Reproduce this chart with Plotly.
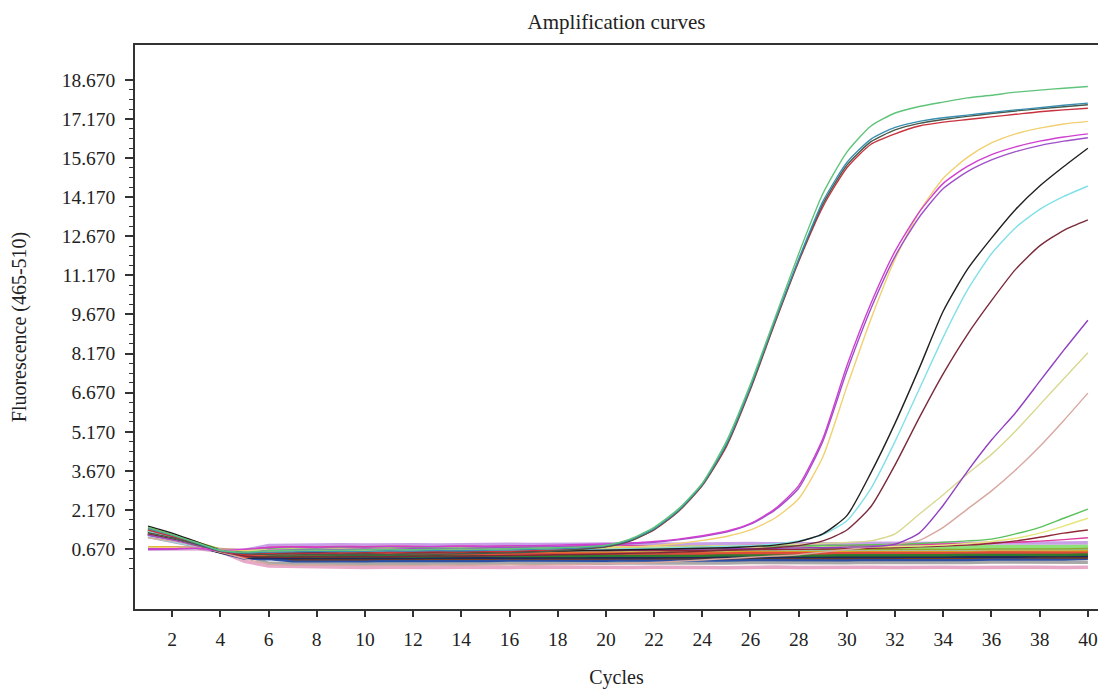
import plotly.graph_objects as go

cycles = list(range(1, 41))

# amplifying wells
green_a = [1.50, 1.22, 0.92, 0.62, 0.55, 0.60, 0.62, 0.63, 0.62, 0.64, 0.65, 0.64, 0.66, 0.67, 0.66, 0.68, 0.70, 0.72, 0.75, 0.82,
           1.05, 1.50, 2.20, 3.20, 4.80, 7.00, 9.50, 12.00, 14.30, 15.90, 16.90, 17.40, 17.65, 17.82, 17.98, 18.08, 18.20, 18.28, 18.35, 18.42]
teal_a = [1.45, 1.20, 0.90, 0.60, 0.52, 0.55, 0.56, 0.58, 0.57, 0.58, 0.60, 0.59, 0.61, 0.60, 0.62, 0.63, 0.66, 0.68, 0.72, 0.80,
          1.02, 1.45, 2.15, 3.15, 4.70, 6.90, 9.40, 11.80, 14.00, 15.50, 16.40, 16.85, 17.08, 17.22, 17.32, 17.42, 17.52, 17.60, 17.70, 17.78]
red_a = [1.40, 1.15, 0.88, 0.58, 0.48, 0.50, 0.52, 0.50, 0.53, 0.52, 0.54, 0.55, 0.56, 0.55, 0.57, 0.58, 0.60, 0.63, 0.68, 0.76,
         0.98, 1.40, 2.10, 3.10, 4.60, 6.80, 9.30, 11.70, 13.80, 15.30, 16.20, 16.60, 16.90, 17.05, 17.15, 17.25, 17.35, 17.45, 17.52, 17.58]
dark_a = [1.30, 1.10, 0.85, 0.60, 0.50, 0.45, 0.44, 0.46, 0.45, 0.47, 0.46, 0.48, 0.47, 0.49, 0.50, 0.52, 0.55, 0.60, 0.66, 0.75,
          0.97, 1.42, 2.12, 3.12, 4.65, 6.85, 9.35, 11.75, 13.90, 15.40, 16.30, 16.75, 17.00, 17.15, 17.27, 17.38, 17.48, 17.56, 17.64, 17.72]
magenta_b = [0.67, 0.68, 0.70, 0.62, 0.66, 0.72, 0.74, 0.73, 0.75, 0.74, 0.76, 0.75, 0.77, 0.78, 0.77, 0.79, 0.80, 0.82, 0.84, 0.86,
             0.90, 0.96, 1.05, 1.18, 1.35, 1.65, 2.20, 3.10, 4.90, 7.70, 10.10, 12.10, 13.60, 14.70, 15.35, 15.80, 16.10, 16.32, 16.48, 16.60]
violet_b = [1.20, 1.02, 0.82, 0.58, 0.50, 0.62, 0.64, 0.66, 0.65, 0.67, 0.66, 0.68, 0.70, 0.69, 0.71, 0.72, 0.74, 0.76, 0.78, 0.82,
            0.87, 0.93, 1.02, 1.15, 1.32, 1.62, 2.15, 3.00, 4.80, 7.50, 9.90, 11.90, 13.40, 14.50, 15.15, 15.60, 15.92, 16.15, 16.32, 16.45]
yellow_b = [0.74, 0.72, 0.70, 0.64, 0.60, 0.58, 0.60, 0.59, 0.61, 0.60, 0.62, 0.63, 0.62, 0.64, 0.65, 0.64, 0.66, 0.68, 0.70, 0.72,
            0.75, 0.80, 0.88, 1.00, 1.15, 1.40, 1.85, 2.60, 4.20, 6.90, 9.50, 11.80, 13.60, 14.90, 15.70, 16.25, 16.60, 16.82, 16.98, 17.08]
black_c = [1.55, 1.28, 0.95, 0.63, 0.55, 0.50, 0.52, 0.51, 0.53, 0.52, 0.54, 0.53, 0.55, 0.56, 0.55, 0.57, 0.58, 0.59, 0.61, 0.62,
           0.64, 0.66, 0.68, 0.70, 0.72, 0.76, 0.82, 0.95, 1.25, 1.95, 3.60, 5.50, 7.60, 9.80, 11.40, 12.60, 13.70, 14.60, 15.35, 16.05]
cyan_c = [1.35, 1.12, 0.86, 0.61, 0.58, 0.56, 0.58, 0.60, 0.59, 0.61, 0.60, 0.62, 0.61, 0.63, 0.62, 0.64, 0.63, 0.65, 0.66, 0.67,
          0.68, 0.70, 0.72, 0.74, 0.77, 0.80, 0.86, 0.98, 1.22, 1.75, 3.00, 4.80, 6.80, 8.80, 10.60, 12.00, 13.00, 13.70, 14.20, 14.60]
maroon_c = [1.25, 1.06, 0.82, 0.58, 0.40, 0.36, 0.35, 0.37, 0.36, 0.38, 0.37, 0.39, 0.40, 0.39, 0.41, 0.42, 0.43, 0.45, 0.46, 0.48,
            0.50, 0.52, 0.55, 0.58, 0.62, 0.66, 0.72, 0.80, 0.98, 1.40, 2.30, 3.90, 5.70, 7.40, 8.90, 10.20, 11.40, 12.30, 12.90, 13.30]
purple_d = [0.67, 0.68, 0.70, 0.60, 0.55, 0.52, 0.54, 0.53, 0.55, 0.54, 0.56, 0.57, 0.56, 0.58, 0.59, 0.60, 0.59, 0.61, 0.62, 0.63,
            0.64, 0.65, 0.66, 0.67, 0.68, 0.69, 0.70, 0.71, 0.72, 0.74, 0.76, 0.85, 1.28, 2.35, 3.65, 4.85, 5.90, 7.10, 8.30, 9.45]
khaki_d = [0.70, 0.70, 0.69, 0.63, 0.62, 0.64, 0.66, 0.65, 0.67, 0.66, 0.68, 0.67, 0.69, 0.70, 0.69, 0.71, 0.72, 0.73, 0.74, 0.75,
           0.76, 0.77, 0.78, 0.79, 0.80, 0.81, 0.83, 0.85, 0.88, 0.92, 0.98, 1.25, 2.00, 2.75, 3.55, 4.30, 5.20, 6.20, 7.20, 8.20]
tan_d = [1.10, 0.98, 0.80, 0.56, 0.30, 0.10, 0.05, 0.06, 0.04, 0.03, 0.04, 0.03, 0.05, 0.04, 0.05, 0.06, 0.05, 0.07, 0.08, 0.10,
         0.12, 0.15, 0.20, 0.25, 0.30, 0.35, 0.40, 0.45, 0.55, 0.65, 0.75, 0.85, 1.00, 1.50, 2.20, 2.90, 3.70, 4.60, 5.60, 6.65]
green_e = [1.30, 1.10, 0.85, 0.60, 0.62, 0.70, 0.72, 0.71, 0.73, 0.72, 0.70, 0.72, 0.71, 0.73, 0.72, 0.74, 0.73, 0.75, 0.74, 0.76,
           0.75, 0.77, 0.76, 0.78, 0.77, 0.79, 0.78, 0.80, 0.81, 0.82, 0.83, 0.85, 0.88, 0.93, 0.98, 1.05, 1.25, 1.50, 1.85, 2.20]
lightyellow_e = [0.70, 0.70, 0.70, 0.64, 0.60, 0.66, 0.68, 0.67, 0.69, 0.68, 0.70, 0.69, 0.68, 0.70, 0.69, 0.71, 0.70, 0.69, 0.71, 0.70,
                 0.72, 0.71, 0.70, 0.72, 0.71, 0.73, 0.72, 0.71, 0.73, 0.74, 0.75, 0.76, 0.78, 0.82, 0.88, 0.96, 1.08, 1.28, 1.55, 1.85]
darkred_e = [1.20, 1.02, 0.80, 0.58, 0.48, 0.56, 0.58, 0.57, 0.59, 0.58, 0.60, 0.59, 0.58, 0.60, 0.59, 0.61, 0.60, 0.59, 0.61, 0.60,
             0.62, 0.61, 0.60, 0.62, 0.63, 0.64, 0.65, 0.66, 0.67, 0.68, 0.70, 0.72, 0.75, 0.78, 0.82, 0.88, 0.98, 1.12, 1.28, 1.40]
magenta_e = [0.67, 0.68, 0.70, 0.62, 0.64, 0.74, 0.76, 0.75, 0.77, 0.76, 0.78, 0.77, 0.76, 0.78, 0.77, 0.79, 0.78, 0.77, 0.79, 0.78,
             0.80, 0.79, 0.78, 0.80, 0.79, 0.81, 0.80, 0.79, 0.81, 0.80, 0.82, 0.83, 0.84, 0.86, 0.88, 0.90, 0.93, 0.97, 1.03, 1.10]

# flat (negative) wells
orange_n = [1.48, 1.20, 0.90, 0.60, 0.45, 0.48, 0.50, 0.49, 0.51, 0.52, 0.50, 0.51, 0.53, 0.52, 0.50, 0.51, 0.53, 0.52, 0.54, 0.53,
            0.55, 0.54, 0.56, 0.55, 0.54, 0.56, 0.57, 0.55, 0.56, 0.58, 0.57, 0.56, 0.58, 0.57, 0.59, 0.58, 0.57, 0.59, 0.60, 0.62]
olive_n = [1.42, 1.18, 0.90, 0.62, 0.55, 0.62, 0.64, 0.63, 0.65, 0.64, 0.66, 0.65, 0.64, 0.66, 0.65, 0.67, 0.66, 0.65, 0.67, 0.66,
           0.68, 0.67, 0.66, 0.68, 0.67, 0.69, 0.68, 0.67, 0.69, 0.68, 0.70, 0.69, 0.68, 0.70, 0.69, 0.71, 0.70, 0.69, 0.71, 0.72]
darkgreen_n = [1.38, 1.14, 0.86, 0.58, 0.42, 0.40, 0.41, 0.39, 0.40, 0.42, 0.41, 0.40, 0.42, 0.41, 0.43, 0.42, 0.41, 0.43, 0.42, 0.44,
               0.43, 0.42, 0.44, 0.43, 0.45, 0.44, 0.43, 0.45, 0.44, 0.46, 0.45, 0.44, 0.46, 0.45, 0.47, 0.46, 0.45, 0.47, 0.46, 0.48]
blue_n = [1.32, 1.10, 0.84, 0.55, 0.32, 0.30, 0.22, 0.21, 0.23, 0.22, 0.24, 0.23, 0.22, 0.24, 0.23, 0.25, 0.24, 0.23, 0.25, 0.24,
          0.26, 0.25, 0.24, 0.26, 0.25, 0.27, 0.26, 0.25, 0.27, 0.26, 0.28, 0.27, 0.26, 0.28, 0.27, 0.29, 0.28, 0.30, 0.29, 0.31]
brown_n = [1.26, 1.06, 0.82, 0.57, 0.50, 0.46, 0.30, 0.29, 0.31, 0.30, 0.32, 0.31, 0.30, 0.32, 0.31, 0.33, 0.32, 0.31, 0.33, 0.32,
           0.34, 0.33, 0.32, 0.34, 0.33, 0.35, 0.34, 0.33, 0.35, 0.34, 0.36, 0.35, 0.34, 0.36, 0.35, 0.37, 0.36, 0.35, 0.37, 0.36]
pink_n = [0.67, 0.68, 0.69, 0.58, 0.20, 0.02, 0.00, -0.02, -0.03, -0.04, -0.03, -0.05, -0.04, -0.03, -0.05, -0.04, -0.02, -0.03, -0.04, -0.05,
          -0.04, -0.03, -0.02, -0.04, -0.05, -0.03, -0.02, -0.04, -0.03, -0.02, -0.03, -0.04, -0.02, -0.03, -0.04, -0.03, -0.02, -0.03, -0.04, -0.03]
lightgreen_n = [1.36, 1.12, 0.86, 0.60, 0.58, 0.68, 0.70, 0.69, 0.71, 0.70, 0.72, 0.71, 0.70, 0.72, 0.71, 0.73, 0.72, 0.71, 0.73, 0.72,
                0.74, 0.73, 0.72, 0.74, 0.73, 0.75, 0.74, 0.73, 0.75, 0.74, 0.76, 0.75, 0.74, 0.76, 0.75, 0.77, 0.76, 0.75, 0.77, 0.78]
gold_n = [0.72, 0.72, 0.71, 0.65, 0.60, 0.55, 0.58, 0.57, 0.59, 0.58, 0.60, 0.59, 0.58, 0.60, 0.59, 0.61, 0.60, 0.59, 0.61, 0.60,
          0.62, 0.61, 0.60, 0.62, 0.61, 0.63, 0.62, 0.61, 0.63, 0.62, 0.64, 0.63, 0.62, 0.64, 0.63, 0.65, 0.64, 0.63, 0.65, 0.64]
tomato_n = [1.28, 1.08, 0.84, 0.58, 0.38, 0.52, 0.54, 0.53, 0.55, 0.54, 0.50, 0.49, 0.51, 0.50, 0.52, 0.51, 0.50, 0.52, 0.51, 0.53,
            0.52, 0.51, 0.53, 0.52, 0.54, 0.53, 0.52, 0.54, 0.53, 0.55, 0.54, 0.53, 0.55, 0.54, 0.56, 0.55, 0.54, 0.56, 0.55, 0.57]
navy_n = [1.24, 1.04, 0.80, 0.56, 0.36, 0.34, 0.33, 0.35, 0.34, 0.36, 0.35, 0.34, 0.36, 0.35, 0.37, 0.36, 0.35, 0.37, 0.36, 0.38,
          0.37, 0.36, 0.38, 0.37, 0.39, 0.38, 0.37, 0.39, 0.38, 0.40, 0.39, 0.38, 0.40, 0.39, 0.41, 0.40, 0.39, 0.41, 0.40, 0.42]
lavender_n = [0.67, 0.68, 0.70, 0.63, 0.62, 0.80, 0.82, 0.81, 0.83, 0.82, 0.84, 0.83, 0.82, 0.84, 0.83, 0.85, 0.84, 0.83, 0.85, 0.86,
              0.87, 0.86, 0.85, 0.87, 0.86, 0.88, 0.87, 0.86, 0.88, 0.87, 0.89, 0.88, 0.87, 0.89, 0.88, 0.90, 0.89, 0.88, 0.90, 0.91]
lightblue_n = [1.18, 1.00, 0.80, 0.60, 0.56, 0.60, 0.62, 0.61, 0.63, 0.62, 0.64, 0.63, 0.62, 0.64, 0.63, 0.65, 0.64, 0.63, 0.65, 0.64,
               0.66, 0.65, 0.64, 0.66, 0.65, 0.67, 0.66, 0.65, 0.67, 0.66, 0.68, 0.67, 0.66, 0.68, 0.67, 0.69, 0.68, 0.67, 0.69, 0.70]
gray_n = [1.15, 0.98, 0.78, 0.57, 0.46, 0.12, 0.10, 0.11, 0.09, 0.10, 0.12, 0.11, 0.10, 0.12, 0.11, 0.13, 0.12, 0.11, 0.13, 0.12,
          0.14, 0.13, 0.12, 0.14, 0.13, 0.15, 0.14, 0.13, 0.15, 0.14, 0.16, 0.15, 0.14, 0.16, 0.15, 0.17, 0.16, 0.15, 0.17, 0.16]

y_ticks = [0.67 + 1.5 * k for k in range(13)]

negatives = [
    (pink_n, '#e8a8c8'), (gray_n, '#a8a8a8'), (blue_n, '#2c4fa3'), (brown_n, '#7a3a18'),
    (navy_n, '#1e2a5a'), (darkgreen_n, '#2f7a2f'), (orange_n, '#e8762c'), (tomato_n, '#e04a3a'),
    (gold_n, '#d8a820'), (lightblue_n, '#9ed4f0'), (olive_n, '#8fa82a'), (lightgreen_n, '#8ee07a'),
    (lavender_n, '#c8a0e8'),
]
positives = [
    (magenta_e, '#e03c9c'), (darkred_e, '#902838'), (lightyellow_e, '#e6e67a'), (green_e, '#5cc05c'),
    (tan_d, '#d8a8a0'), (khaki_d, '#d8d890'), (purple_d, '#9040c0'),
    (maroon_c, '#7a2a3a'), (cyan_c, '#80e0e8'), (black_c, '#202020'),
    (yellow_b, '#f0d070'), (violet_b, '#a050c8'), (magenta_b, '#d040d0'),
    (red_a, '#c8323c'), (dark_a, '#4a5a4a'), (teal_a, '#3a8fb0'), (green_a, '#5fc47a'),
]

fig = go.Figure()
for vals, col in negatives:
    fig.add_trace(go.Scatter(x=cycles, y=vals, mode='lines',
                             line=dict(color=col, width=3.5), showlegend=False))
for vals, col in positives:
    fig.add_trace(go.Scatter(x=cycles, y=vals, mode='lines',
                             line=dict(color=col, width=1.4, shape='spline', smoothing=0.6),
                             showlegend=False))

font = 'Liberation Serif, Times New Roman, serif'
minor_vals = [0.67 + 0.375 * k for k in range(-2, 49)]

fig.update_layout(
    width=1098, height=689,
    margin=dict(l=135, r=0, t=45, b=80),
    plot_bgcolor='white', paper_bgcolor='white',
    font=dict(family=font, size=19.5, color='#222'),
    title=dict(text='Amplification curves', x=0.5, xref='paper', y=0.968, yanchor='middle',
               font=dict(family=font, size=21, color='#222')),
    xaxis=dict(range=[0.46, 40.42], tickmode='array', tickvals=list(range(2, 41, 2)),
               ticks='outside', ticklen=6, tickwidth=1.5, tickcolor='#333',
               ticklabelstandoff=6,
               showline=True, linecolor='#333', linewidth=1.5, mirror=True,
               showgrid=False, zeroline=False, automargin=False,
               title=dict(text='Cycles', standoff=27, font=dict(size=20))),
    yaxis=dict(range=[-1.633, 20.01], tickmode='array', tickvals=y_ticks, tickformat='.3f',
               ticks='outside', ticklen=8, tickwidth=1.5, tickcolor='#333',
               ticklabelstandoff=6,
               minor=dict(tickmode='array', tickvals=minor_vals, ticks='outside',
                          ticklen=4, tickwidth=1.2, tickcolor='#333'),
               showline=True, linecolor='#333', linewidth=1.5,
               showgrid=False, zeroline=False, automargin=False,
               title=dict(text='Fluorescence (465-510)', standoff=30, font=dict(size=20))),
)

# the page's default body margin would shift the figure by 8px
fig.write_html('out.html', config={'displayModeBar': False},
               post_script="document.body.style.margin='0';")
